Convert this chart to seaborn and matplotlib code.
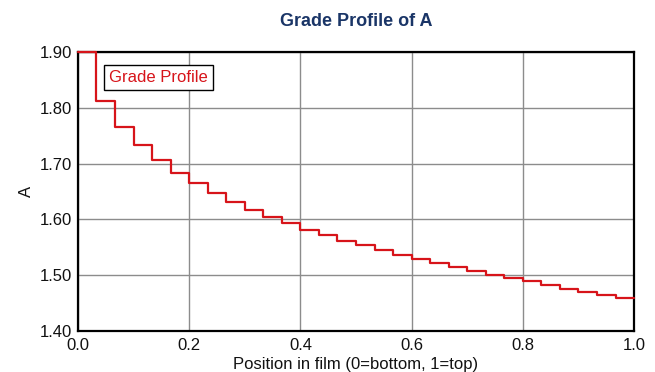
import numpy as np
import pandas as pd
import matplotlib
matplotlib.use("Agg")
import matplotlib.pyplot as plt
import seaborn as sns

# Step values of the grade profile (30 layers, bottom -> top)
grade_values = [1.900, 1.813, 1.766, 1.733, 1.706, 1.683, 1.665, 1.647, 1.632, 1.617,
                1.605, 1.593, 1.582, 1.573, 1.562, 1.554, 1.545, 1.537, 1.529, 1.522,
                1.515, 1.508, 1.501, 1.495, 1.489, 1.482, 1.476, 1.470, 1.465, 1.459]
x_ticks = [0.0, 0.2, 0.4, 0.6, 0.8, 1.0]
y_ticks = [1.40, 1.50, 1.60, 1.70, 1.80, 1.90]
series_name = "Grade Profile"

n = len(grade_values)
positions = np.linspace(0, 1, n + 1)
df = pd.DataFrame({
    "pos": positions,
    "A": grade_values + [grade_values[-1]],
    "series": series_name,
})

sns.set_theme(style="white")
plt.rcParams["font.family"] = ["Liberation Sans", "DejaVu Sans"]

fig, ax = plt.subplots(figsize=(6.55, 3.72), dpi=100)
fig.subplots_adjust(left=0.119, right=0.968, top=0.860, bottom=0.110)

sns.lineplot(data=df, x="pos", y="A", hue="series", palette=["#d7141a"],
             drawstyle="steps-post", linewidth=1.6, ax=ax, sort=False,
             zorder=3, clip_on=False)

ax.set_xlim(0, 1)
ax.set_ylim(1.40, 1.90)
ax.set_xticks(x_ticks)
ax.set_xticklabels([f"{v:.1f}" for v in x_ticks], fontsize=12)
ax.set_yticks(y_ticks)
ax.set_yticklabels([f"{v:.2f}" for v in y_ticks], fontsize=12)
ax.tick_params(axis="x", length=0, pad=5, colors="#111111")
ax.tick_params(axis="y", length=0, pad=4, colors="#111111")
ax.grid(True, color="#8c8c8c", linewidth=1.0)
ax.set_axisbelow(True)
for s in ax.spines.values():
    s.set_color("black")
    s.set_linewidth(1.6)

ax.set_xlabel("Position in film (0=bottom, 1=top)", fontsize=12, labelpad=3, color="#111111")
ax.set_ylabel("A", fontsize=12, labelpad=4, color="#111111")
ax.set_title("Grade Profile of A", fontsize=13, fontweight="bold", color="#1a3567", pad=19)

leg = ax.legend(loc="upper left", bbox_to_anchor=(0.047, 0.953), borderaxespad=0,
                handlelength=0, handletextpad=0, fontsize=12, labelcolor="#d7141a",
                fancybox=False, framealpha=1, edgecolor="black", borderpad=0.3)
for h in leg.legend_handles:
    h.set_visible(False)
leg.get_frame().set_linewidth(1.0)

fig.savefig("out.png", dpi=100)
